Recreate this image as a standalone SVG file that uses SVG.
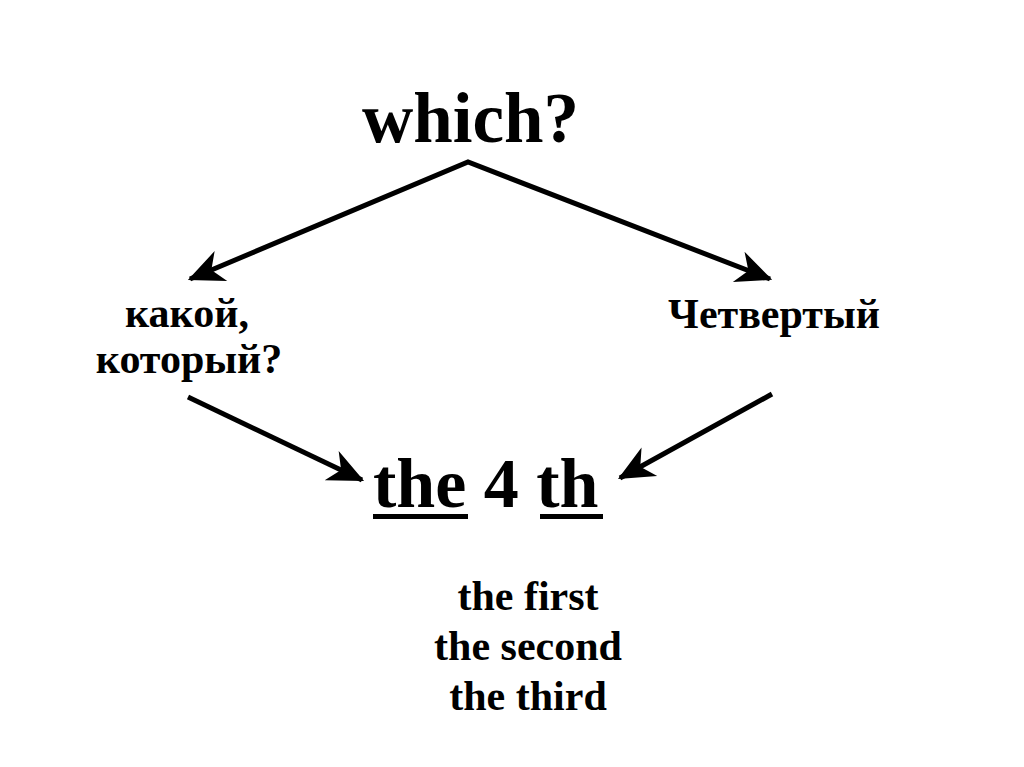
<svg xmlns="http://www.w3.org/2000/svg" width="1024" height="767" viewBox="0 0 1024 767">
<style>
.t{font-family:"Liberation Serif","Times New Roman",serif;font-weight:bold;fill:#000}
.c{fill:none;stroke:#000;stroke-width:5;stroke-linejoin:miter}
</style>
<defs>
<marker id="ah" markerUnits="userSpaceOnUse" markerWidth="44" markerHeight="44" viewBox="-34 -17 38 34" refX="0" refY="0" orient="auto-start-reverse">
<path d="M2,0 L-29,-14 L-20,0 L-29,14 Z" fill="#000"/>
</marker>
</defs>
<rect width="1024" height="767" fill="#fff"/>
<g id="which"><text class="t" x="362" y="142" font-size="71">which?</text></g>
<g id="kakoy">
<text class="t" x="187" y="327" font-size="42" text-anchor="middle">какой,</text>
<text class="t" x="189" y="373" font-size="42" text-anchor="middle">который?</text>
</g>
<g id="chetverty"><text class="t" x="774" y="328" font-size="42" text-anchor="middle">Четвертый</text></g>
<g id="the4th">
<text class="t" x="373" y="507" font-size="70">the 4 th</text>
<rect x="373" y="514" width="95" height="5" fill="#000"/>
<rect x="540" y="514" width="63" height="5" fill="#000"/>
</g>
<g id="examples">
<text class="t" x="528" y="610" font-size="42" text-anchor="middle">the first</text>
<text class="t" x="528" y="660" font-size="42" text-anchor="middle">the second</text>
<text class="t" x="528" y="710" font-size="42" text-anchor="middle">the third</text>
</g>
<g id="connectors">
<polyline class="c" points="190,279 468,162 770,279" marker-start="url(#ah)" marker-end="url(#ah)"/>
<line class="c" x1="188" y1="397" x2="362" y2="480" marker-end="url(#ah)"/>
<line class="c" x1="772" y1="394" x2="620" y2="478" marker-end="url(#ah)"/>
</g>
</svg>
